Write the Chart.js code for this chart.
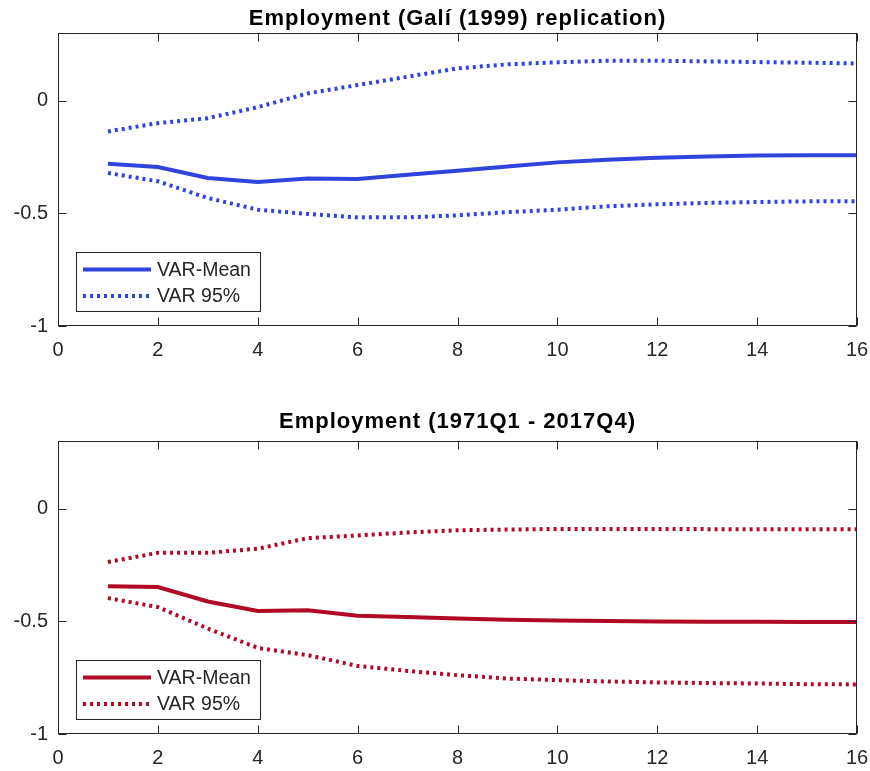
<!DOCTYPE html>
<html>
<head>
<meta charset="utf-8">
<script src="https://cdn.jsdelivr.net/npm/chart.js@4.4.1/dist/chart.umd.min.js"></script>
<style>
  html, body { margin: 0; padding: 0; background: #ffffff; }
  body { width: 870px; height: 771px; position: relative; overflow: hidden; }
  canvas { position: absolute; left: 0; }
  #top { top: 0; }
  #bottom { top: 385px; }
</style>
</head>
<body>
<canvas id="top" width="870" height="385"></canvas>
<canvas id="bottom" width="870" height="386"></canvas>
<script>
// Horizon (quarters) of the impulse responses
const horizons = [1, 2, 3, 4, 5, 6, 7, 8, 9, 10, 11, 12, 13, 14, 15, 16];

// Employment response, Galí (1999) replication sample
const galiMean  = [-0.280, -0.295, -0.343, -0.361, -0.346, -0.348, -0.329, -0.311, -0.292, -0.274, -0.262, -0.253, -0.248, -0.244, -0.242, -0.242];
const galiUpper = [-0.137, -0.100, -0.078, -0.029, 0.032, 0.069, 0.106, 0.143, 0.161, 0.170, 0.177, 0.177, 0.174, 0.171, 0.168, 0.165];
const galiLower = [-0.321, -0.358, -0.432, -0.484, -0.503, -0.518, -0.518, -0.509, -0.495, -0.484, -0.469, -0.460, -0.454, -0.450, -0.447, -0.447];

// Employment response, 1971Q1 - 2017Q4 sample
const fullMean  = [-0.344, -0.348, -0.412, -0.454, -0.451, -0.475, -0.481, -0.487, -0.493, -0.496, -0.499, -0.501, -0.502, -0.502, -0.503, -0.503];
const fullUpper = [-0.237, -0.196, -0.196, -0.178, -0.131, -0.119, -0.106, -0.096, -0.093, -0.090, -0.090, -0.090, -0.091, -0.091, -0.092, -0.092];
const fullLower = [-0.397, -0.437, -0.532, -0.618, -0.650, -0.698, -0.720, -0.739, -0.754, -0.761, -0.767, -0.771, -0.774, -0.776, -0.779, -0.780];

const xTicks = [0, 2, 4, 6, 8, 10, 12, 14, 16];
const yTicks = [-1, -0.5, 0];
const seriesLabels = ['VAR-Mean', 'VAR 95%'];

const FONT = '"Liberation Sans", Arial, Helvetica, sans-serif';
const AXIS_COLOR = '#262626';
const BLUE = '#3044DC';
const RED = '#B00A26';

function pts(values) {
  return horizons.map((h, i) => ({ x: h, y: values[i] }));
}

// Box, inward ticks, title and legend in the MATLAB axes style
const axesDecor = {
  id: 'axesDecor',
  afterDatasetsDraw(chart, args, opts) {
    const ctx = chart.ctx;
    const a = chart.chartArea;
    const xs = chart.scales.x, ys = chart.scales.y;
    const L = Math.round(a.left) + 0.5, R = Math.round(a.right) - 0.5;
    const T = Math.round(a.top) + 0.5, B = Math.round(a.bottom) - 0.5;
    ctx.save();
    ctx.strokeStyle = AXIS_COLOR;
    ctx.lineWidth = 1;
    ctx.strokeRect(L, T, R - L, B - T);
    const tl = 8;
    ctx.beginPath();
    xTicks.forEach(v => {
      const px = Math.round(xs.getPixelForValue(v)) + 0.5;
      ctx.moveTo(px, B); ctx.lineTo(px, B - tl);
      ctx.moveTo(px, T); ctx.lineTo(px, T + tl);
    });
    yTicks.forEach(v => {
      const py = Math.round(ys.getPixelForValue(v)) + 0.5;
      ctx.moveTo(L, py); ctx.lineTo(L + tl, py);
      ctx.moveTo(R, py); ctx.lineTo(R - tl, py);
    });
    ctx.stroke();

    // title
    ctx.fillStyle = '#000000';
    ctx.font = 'bold 22px ' + FONT;
    ctx.letterSpacing = '1px';
    ctx.textAlign = 'center';
    ctx.textBaseline = 'alphabetic';
    ctx.fillText(opts.title, (a.left + a.right) / 2, a.top - opts.titleGap);
    ctx.letterSpacing = '0px';

    // legend
    const lx = 76, lw = 184, lh = 59;
    const ly = Math.round(a.bottom) - 15 - lh;
    ctx.fillStyle = '#ffffff';
    ctx.fillRect(lx, ly, lw, lh);
    ctx.strokeStyle = AXIS_COLOR;
    ctx.lineWidth = 1;
    ctx.strokeRect(lx + 0.5, ly + 0.5, lw, lh);
    const rows = [ly + 17.5, ly + 44];
    chart.data.datasets.slice(0, 2).forEach((ds, i) => {
      ctx.beginPath();
      ctx.strokeStyle = ds.borderColor;
      ctx.lineWidth = ds.borderWidth;
      ctx.lineCap = 'butt';
      ctx.setLineDash(ds.borderDash || []);
      ctx.moveTo(83, rows[i]);
      ctx.lineTo(151, rows[i]);
      ctx.stroke();
      ctx.setLineDash([]);
      ctx.fillStyle = AXIS_COLOR;
      ctx.font = '19.5px ' + FONT;
      ctx.textAlign = 'left';
      ctx.textBaseline = 'middle';
      ctx.fillText(seriesLabels[i], 157, rows[i] + 1);
    });
    ctx.restore();
  }
};

function makeChart(id, title, titleGap, color, mean, upper, lower, padTop, xAxisHeight) {
  const dotted = [3, 4];
  return new Chart(document.getElementById(id), {
    type: 'line',
    data: {
      datasets: [
        { label: seriesLabels[0], data: pts(mean), borderColor: color, borderWidth: 4, pointRadius: 0, tension: 0, fill: false },
        { label: seriesLabels[1], data: pts(upper), borderColor: color, borderWidth: 4, borderDash: dotted, borderCapStyle: 'butt', pointRadius: 0, tension: 0, fill: false },
        { label: seriesLabels[1] + ' lower', data: pts(lower), borderColor: color, borderWidth: 4, borderDash: dotted, borderCapStyle: 'butt', pointRadius: 0, tension: 0, fill: false }
      ]
    },
    options: {
      responsive: false,
      animation: false,
      devicePixelRatio: 1,
      layout: { padding: { top: padTop, right: 13, left: 0, bottom: 0 } },
      plugins: {
        legend: { display: false },
        title: { display: false },
        tooltip: { enabled: false },
        axesDecor: { title: title, titleGap: titleGap }
      },
      scales: {
        x: {
          type: 'linear', min: 0, max: 16,
          grid: { display: false, drawTicks: false },
          border: { display: false },
          afterBuildTicks: s => { s.ticks = xTicks.map(v => ({ value: v })); },
          afterFit: s => { s.height = xAxisHeight; s.paddingLeft = 0; s.paddingRight = 0; },
          ticks: { color: AXIS_COLOR, font: { family: FONT, size: 20 }, padding: 12, maxRotation: 0, autoSkip: false, callback: v => String(v) }
        },
        y: {
          type: 'linear', min: -1, max: 0.3,
          grid: { display: false, drawTicks: false },
          border: { display: false },
          afterBuildTicks: s => { s.ticks = yTicks.map(v => ({ value: v })); },
          afterFit: s => { s.width = 58; s.paddingTop = 0; s.paddingBottom = 0; },
          ticks: { color: AXIS_COLOR, font: { family: FONT, size: 20 }, padding: 10, autoSkip: false, callback: v => String(v) }
        }
      }
    },
    plugins: [axesDecor]
  });
}

makeChart('top', 'Employment (Galí (1999) replication)', 8, BLUE, galiMean, galiUpper, galiLower, 33, 59);
makeChart('bottom', 'Employment (1971Q1 - 2017Q4)', 13, RED, fullMean, fullUpper, fullLower, 56, 37);
</script>
</body>
</html>
